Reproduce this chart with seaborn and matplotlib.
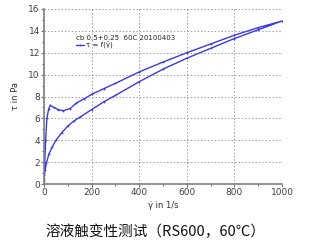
import matplotlib
matplotlib.use("Agg")
import matplotlib.pyplot as plt
import seaborn as sns
import pandas as pd
from matplotlib.ticker import MultipleLocator

up_rate = [0, 3, 7, 12, 20, 27, 40, 60, 80, 110, 136, 170, 200, 250, 300, 400, 500, 600, 700, 800, 900, 1000]
up_stress = [0.5, 2.0, 4.0, 6.0, 6.9, 7.2, 7.0, 6.8, 6.7, 6.9, 7.4, 7.8, 8.2, 8.7, 9.2, 10.25, 11.15, 12.0, 12.8, 13.6, 14.3, 14.9]
down_rate = [1000, 900, 800, 700, 600, 500, 400, 300, 250, 200, 150, 125, 100, 75, 50, 35, 20, 10, 5, 2, 0]
down_stress = [14.9, 14.1, 13.3, 12.4, 11.5, 10.5, 9.35, 8.1, 7.5, 6.8, 6.1, 5.75, 5.3, 4.7, 4.0, 3.4, 2.7, 1.9, 1.3, 0.8, 0.3]

x_ticks = [0, 200, 400, 600, 800, 1000]
y_ticks = [0, 2, 4, 6, 8, 10, 12, 14, 16]
legend_title = "cb 0.5+0.25  60C 20100403"
series_label = "τ = f(γ̇)"
x_label = "γ̇ in 1/s"
y_label = "τ in Pa"
caption = "溶液触变性测试（RS600，60℃）"

df = pd.DataFrame({
    "rate": up_rate + down_rate,
    "stress": up_stress + down_stress,
})

sns.set_style("white")
plt.rcParams["font.family"] = ["DejaVu Sans", "Noto Sans CJK SC"]

fig = plt.figure(figsize=(3.24, 2.42), dpi=100)
ax = fig.add_axes([44 / 324, 1 - 184 / 242, 238 / 324, 175 / 242])

sns.lineplot(data=df, x="rate", y="stress", sort=False, estimator=None, ax=ax,
             color="#3a3ae0", lw=1.0, marker="o", markersize=1.3,
             markeredgewidth=0, label=series_label)

ax.set_xlim(0, 1000)
ax.set_ylim(0, 16)
ax.set_xticks(x_ticks)
ax.set_yticks(y_ticks)
ax.xaxis.set_minor_locator(MultipleLocator(100))
ax.yaxis.set_minor_locator(MultipleLocator(1))
ax.grid(True, which="major", linestyle=(0, (1.5, 2)), color="#a0a0a0", lw=0.7)
ax.tick_params(axis="both", which="major", labelsize=6.5, length=2, color="#707070",
               labelcolor="#404040", pad=1, direction="out")
ax.tick_params(axis="both", which="minor", length=1.5, color="#404040")
ax.tick_params(bottom=True, left=True, which="both")
for side in ["top", "right"]:
    ax.spines[side].set_visible(False)
for side in ["left", "bottom"]:
    ax.spines[side].set_color("#808080")
    ax.spines[side].set_linewidth(1.2)

ax.set_xlabel(x_label, fontsize=6, color="#303030", labelpad=3)
ax.set_ylabel(y_label, fontsize=6, color="#303030", labelpad=6)

leg = ax.legend(loc="upper left", bbox_to_anchor=(0.12, 0.87), frameon=False,
                title=legend_title, fontsize=5, title_fontsize=5,
                handlelength=1.2, handletextpad=0.3, borderpad=0, labelspacing=0.1)
leg._legend_box.align = "left"

fig.text(155 / 324, 1 - 232 / 242, caption, ha="center", va="center", fontsize=10.5,
         family=["Noto Sans CJK SC", "DejaVu Sans"], color="#111111")

fig.savefig("out.png", dpi=100)
